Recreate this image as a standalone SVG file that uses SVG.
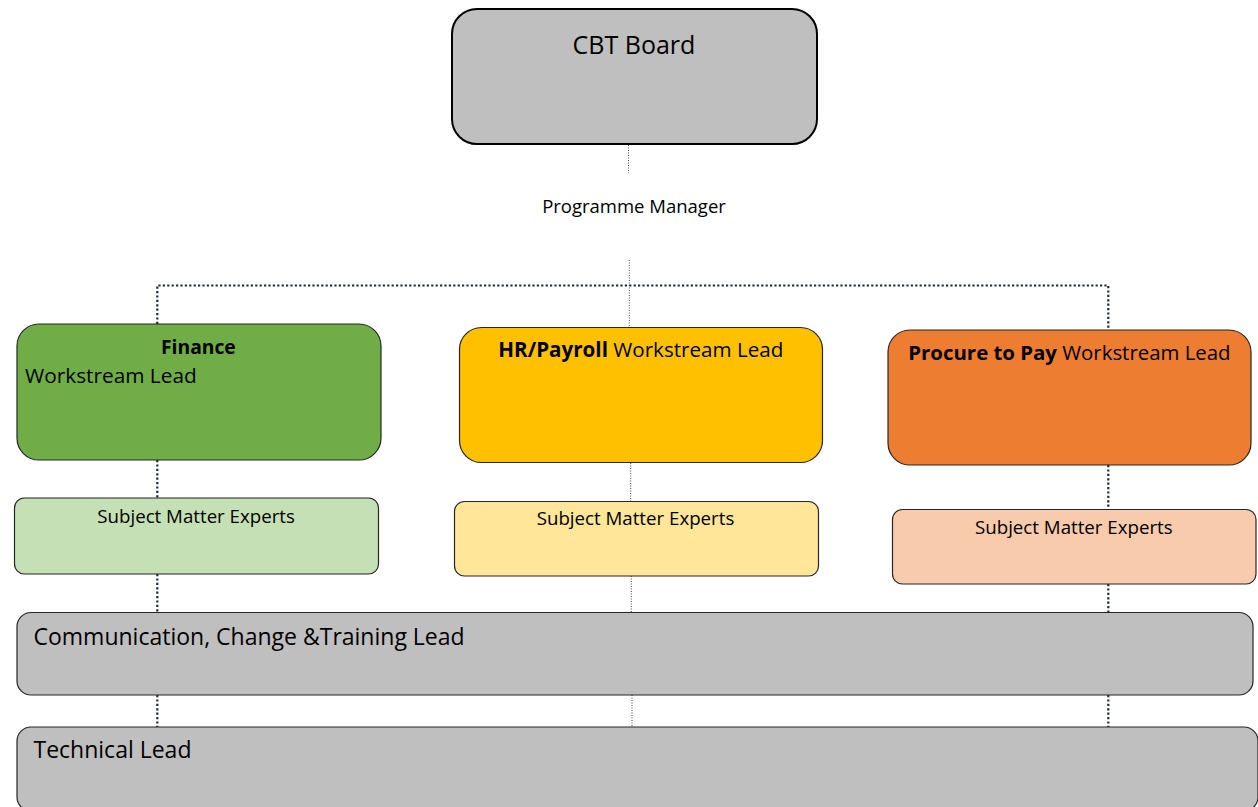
<svg xmlns="http://www.w3.org/2000/svg" width="1258" height="807" viewBox="0 0 1258 807">
<style>
  text { font-family: "Open Sans", "Liberation Sans", sans-serif; fill: #000; }
  .box { stroke: #262626; stroke-width: 1.2; }
  .board { fill: #bfbfbf; stroke: #000; stroke-width: 2; }
  .thick { stroke: #1f2a3a; stroke-width: 2.2; stroke-dasharray: 2.2 2.2; fill: none; }
  .thin { stroke: #444; stroke-width: 1; stroke-dasharray: 1 1.5; fill: none; }
  .b { font-weight: bold; }
</style>
<rect width="1258" height="807" fill="#fff"/>
<g id="connectors">
  <line class="thin" x1="628.5" y1="145" x2="628.5" y2="173"/>
  <line class="thin" x1="629.3" y1="260" x2="629.3" y2="327"/>
  <polyline class="thick" points="157.3,324 157.3,285.5 1108.3,285.5 1108.3,330"/>
  <line class="thick" x1="157.3" y1="460" x2="157.3" y2="498"/>
  <line class="thick" x1="157.3" y1="574" x2="157.3" y2="612.5"/>
  <line class="thick" x1="157.3" y1="695" x2="157.3" y2="727"/>
  <line class="thin" x1="630.7" y1="463" x2="630.7" y2="501.5"/>
  <line class="thin" x1="631.3" y1="576" x2="631.3" y2="612.5"/>
  <line class="thin" x1="632" y1="695" x2="632" y2="727"/>
  <line class="thick" x1="1108.3" y1="465" x2="1108.3" y2="509.5"/>
  <line class="thick" x1="1108.3" y1="584" x2="1108.3" y2="612.5"/>
  <line class="thick" x1="1108.3" y1="695" x2="1108.3" y2="727"/>
</g>
<g id="cbt-board">
  <rect class="board" x="452" y="9" width="365" height="135" rx="25"/>
  <text x="634" y="54" font-size="25" text-anchor="middle">CBT Board</text>
</g>
<g id="programme-manager">
  <text x="634" y="213" font-size="18.5" text-anchor="middle">Programme Manager</text>
</g>
<g id="finance">
  <rect class="box" x="17" y="324" width="364" height="136" rx="22" fill="#70ad47"/>
  <text x="161" y="354" font-size="19.3" class="b">Finance</text>
  <text x="25" y="383" font-size="20.8">Workstream Lead</text>
</g>
<g id="hr-payroll">
  <rect class="box" x="459.5" y="327.5" width="363" height="135" rx="22" fill="#ffc000"/>
  <text x="498.3" y="357" font-size="20.6"><tspan class="b">HR/Payroll</tspan> Workstream Lead</text>
</g>
<g id="procure-to-pay">
  <rect class="box" x="888" y="330" width="363" height="135" rx="22" fill="#ed7d31"/>
  <text x="908.3" y="359.5" font-size="20.4"><tspan class="b">Procure to Pay</tspan> Workstream Lead</text>
</g>
<g id="finance-sme">
  <rect class="box" x="14.5" y="498" width="364" height="76" rx="10" fill="#c5e0b4"/>
  <text x="97.3" y="523" font-size="18.7">Subject Matter Experts</text>
</g>
<g id="hr-sme">
  <rect class="box" x="454.5" y="501.5" width="364" height="74.5" rx="10" fill="#ffe699"/>
  <text x="536.7" y="525" font-size="18.7">Subject Matter Experts</text>
</g>
<g id="p2p-sme">
  <rect class="box" x="892.5" y="509.5" width="363.5" height="74.5" rx="10" fill="#f8cbad"/>
  <text x="975" y="534" font-size="18.7">Subject Matter Experts</text>
</g>
<g id="comm-change-training">
  <rect class="box" x="17" y="612.5" width="1236" height="82.5" rx="14" fill="#bfbfbf"/>
  <text x="33.5" y="645" font-size="23">Communication, Change &amp;Training Lead</text>
</g>
<g id="technical-lead">
  <rect class="box" x="17" y="727" width="1241" height="84" rx="14" fill="#bfbfbf"/>
  <text x="33.5" y="758" font-size="23">Technical Lead</text>
</g>
</svg>
